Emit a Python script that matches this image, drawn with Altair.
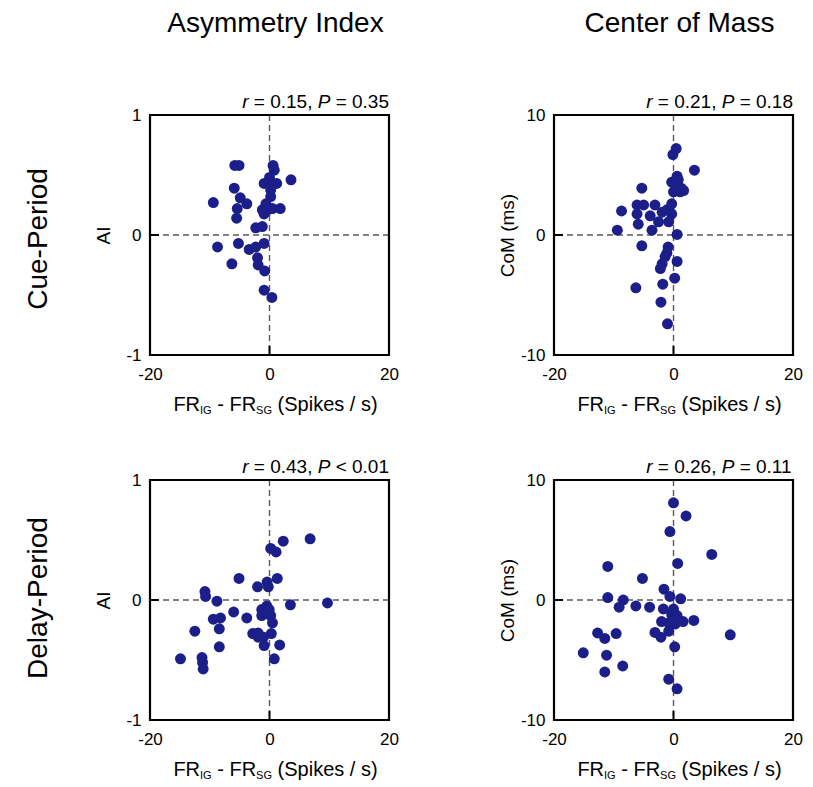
import altair as alt
import pandas as pd

FONT = "Liberation Sans"
NAVY = "#1c1f89"
PW, PH = 239, 240

# ---- data ----
cue_ai_x = [-5.8, -5.1, 0.6, 0.8, 0.0, 3.6, -0.9, 0.5, 1.2, -5.9, 0.2, -4.9, -3.8, -9.4, 0.2, -0.6,
            -5.4, -1.2, -0.3, 0.5, 1.8, -5.5, -0.9, -2.3, -1.2, -8.7, -5.2, -3.4, -2.3, -0.9, -6.3,
            -2.0, -1.9, -0.8, -0.9, 0.4]
cue_ai_y = [0.58, 0.58, 0.58, 0.54, 0.48, 0.46, 0.43, 0.43, 0.43, 0.39, 0.375, 0.31, 0.26, 0.27,
            0.32, 0.26, 0.22, 0.21, 0.21, 0.22, 0.22, 0.14, 0.175, 0.06, 0.07, -0.10, -0.07, -0.12,
            -0.10, -0.07, -0.24, -0.19, -0.25, -0.30, -0.46, -0.52]

cue_com_x = [0.45, -0.1, 3.5, 0.6, 0.8, -0.3, -5.3, 1.3, 1.7, 0.8, 0.0, 1.1, -6.1, -5.0, -3.1, -0.3,
             -8.7, -1.1, -1.9, -6.1, -3.9, -0.3, -2.5, -0.8, -5.9, -9.4, -3.6, 0.6, -5.3, -0.9,
             -1.1, -1.4, 0.6, -1.9, -2.2, 0.2, -6.3, -1.8, -2.1, -1.0]
cue_com_y = [7.2, 6.7, 5.4, 4.9, 4.6, 4.4, 3.9, 3.9, 3.7, 3.8, 3.6, 3.6, 2.5, 2.5, 2.5, 2.6, 2.0,
             2.1, 1.9, 1.75, 1.6, 1.75, 1.1, 1.1, 0.9, 0.4, 0.4, 0.05, -0.9, -1.0, -1.5, -1.8,
             -2.2, -2.4, -2.8, -3.6, -4.4, -4.1, -5.6, -7.4]

delay_ai_x = [6.8, 2.3, 0.2, 1.1, -5.1, 1.3, -0.4, -2.0, -0.2, -10.8, -10.7, -8.8, 3.5, 9.7, -0.45,
              -1.3, -0.05, -6.0, -1.3, 0.2, -3.8, -8.2, -9.4, 0.5, -8.4, -12.5, -2.8, -1.9, 0.3,
              -1.9, -1.0, -0.9, 1.7, -8.4, -14.9, -11.3, -11.2, -11.1, 0.8]
delay_ai_y = [0.51, 0.49, 0.43, 0.40, 0.18, 0.18, 0.15, 0.11, 0.11, 0.07, 0.03, -0.01, -0.04,
              -0.025, -0.05, -0.08, -0.08, -0.10, -0.13, -0.13, -0.15, -0.15, -0.16, -0.19, -0.24,
              -0.26, -0.28, -0.275, -0.28, -0.31, -0.31, -0.38, -0.375, -0.39, -0.49, -0.48,
              -0.52, -0.575, -0.49]

delay_com_x = [0.0, 2.1, -0.6, 6.4, 0.7, -11.0, -5.2, -1.6, -0.6, 1.2, -11.0, -8.4, -9.1, -6.3,
               -4.0, -1.7, 0.0, -0.3, 0.6, 1.6, 3.4, -2.0, -0.8, 0.3, -3.1, -2.1, -0.8, -12.7,
               -11.5, -9.6, 9.5, 0.2, -15.1, -11.2, -8.5, -11.5, -0.8, 0.6]
delay_com_y = [8.1, 7.0, 5.7, 3.8, 3.05, 2.8, 1.8, 0.9, 0.3, 0.1, 0.2, 0.0, -0.6, -0.5, -0.6,
               -0.75, -0.75, -1.2, -1.3, -1.8, -1.7, -1.8, -1.9, -2.0, -2.7, -3.1, -2.6, -2.75,
               -3.2, -2.8, -2.9, -3.9, -4.4, -4.6, -5.5, -6.0, -6.6, -7.4]

x_ticks = [-20, 0, 20]
ai_ticks = [-1, 0, 1]
com_ticks = [-10, 0, 10]
col_titles = ["Asymmetry Index", "Center of Mass"]
row_titles = ["Cue-Period", "Delay-Period"]
stats = [
    [("r", True), (" = 0.15, ", False), ("P", True), (" = 0.35", False)],
    [("r", True), (" = 0.21, ", False), ("P", True), (" = 0.18", False)],
    [("r", True), (" = 0.43, ", False), ("P", True), (" < 0.01", False)],
    [("r", True), (" = 0.26, ", False), ("P", True), (" = 0.11", False)],
]

# Arial / Liberation Sans advance widths (per 1000 em)
WID = {' ': 278, '=': 584, '<': 584, '.': 278, ',': 278, 'r': 333, 'P': 667, '-': 333,
       '(': 333, ')': 333, '/': 278, 'F': 611, 'R': 722, 'I': 278, 'G': 778, 'S': 667,
       'p': 556, 'i': 222, 'k': 500, 'e': 556, 's': 500}


def tw(s, size):
    return sum(WID.get(c, 556) for c in s) * size / 1000.0


ONE = pd.DataFrame({"a": [0]})


def txt(s, x, y, size, italic=False, align="left", baseline="alphabetic", angle=0):
    kw = dict(align=align, baseline=baseline, fontSize=size, font=FONT, color="black")
    if italic:
        kw["fontStyle"] = "italic"
    if angle:
        kw["angle"] = angle
    return alt.Chart(ONE).mark_text(**kw).encode(
        x=alt.value(x), y=alt.value(y), text=alt.value(s))


def segments(segs, x_start, y, size):
    layers = []
    x = x_start
    for s, it, sz, dy in segs:
        st = s.strip()
        lead = len(s) - len(s.lstrip())
        xx = x + tw(s[:lead], sz)
        if st:
            layers.append(txt(st, xx, y + dy, sz, italic=it))
        x += tw(s, sz)
    return layers


def panel(xs, ys, ydom, yvals, ytitle, stat, col_title=None, row_title=None, row_dy=0):
    df = pd.DataFrame({"x": xs, "y": ys})
    pts = alt.Chart(df).mark_circle(size=120, color=NAVY, opacity=1).encode(
        x=alt.X("x:Q", scale=alt.Scale(domain=[-20, 20], nice=False, zero=False),
                axis=alt.Axis(values=x_ticks, title=None, domain=False, ticks=False, grid=False,
                              labelPadding=11, labelFontSize=17, labelExpr="'' + datum.value",
                              labelFlush=False)),
        y=alt.Y("y:Q", scale=alt.Scale(domain=ydom, nice=False, zero=False),
                axis=alt.Axis(values=yvals, title=ytitle, domain=False, ticks=False, grid=False,
                              labelPadding=9, labelFontSize=17, labelExpr="'' + datum.value",
                              labelFlush=False, titleFontSize=19, titleFontWeight="normal",
                              titleX=-47, titleY=PH / 2, titleAngle=270, titleAlign="center",
                              titleBaseline="middle")),
    )
    zero = pd.DataFrame({"v": [0]})
    vline = alt.Chart(zero).mark_rule(color="#5a5a5a", strokeDash=[6, 4], strokeWidth=1.4).encode(x="v:Q")
    hline = alt.Chart(zero).mark_rule(color="#5a5a5a", strokeDash=[6, 4], strokeWidth=1.4).encode(y="v:Q")
    tick_x = alt.Chart(zero).mark_rule(color="black", strokeWidth=2).encode(
        x="v:Q", y=alt.value(PH), y2=alt.value(PH - 9))
    tick_y = alt.Chart(zero).mark_rule(color="black", strokeWidth=2).encode(
        y="v:Q", x=alt.value(0), x2=alt.value(9))
    frame = alt.Chart(ONE).mark_rect(fillOpacity=0, stroke="black", strokeWidth=2.2).encode(
        x=alt.value(0), x2=alt.value(PW), y=alt.value(0), y2=alt.value(PH))

    layers = [hline, vline, tick_x, tick_y, pts, frame]

    # r / P annotation, right aligned at the plot's right edge
    ssz = 19
    segs = [(s, it, ssz, 0) for s, it in stat]
    total = sum(tw(s, ssz) for s, _ in stat)
    layers += segments(segs, PW - total, -7, ssz)

    # x-axis title with subscripts
    msz, ssub = 20, 11
    xsegs = [("FR", False, msz, 0), ("IG", False, ssub, 3), (" - FR", False, msz, 0),
             ("SG", False, ssub, 3), (" (Spikes / s)", False, msz, 0)]
    xtot = sum(tw(s, sz) for s, _, sz, _ in xsegs)
    layers += segments(xsegs, PW / 2 + 6 - xtot / 2, PH + 56, msz)

    if col_title:
        layers.append(txt(col_title, PW / 2 + 6, -83, 28, align="center"))
    if row_title:
        layers.append(txt(row_title, -111, PH / 2 + row_dy, 28, align="center",
                          baseline="middle", angle=270))

    return alt.layer(*layers).properties(width=PW, height=PH)


pA = panel(cue_ai_x, cue_ai_y, [-1, 1], ai_ticks, "AI", stats[0], col_titles[0], row_titles[0], 4)
pB = panel(cue_com_x, cue_com_y, [-10, 10], com_ticks, "CoM (ms)", stats[1], col_titles[1])
pC = panel(delay_ai_x, delay_ai_y, [-1, 1], ai_ticks, "AI", stats[2], None, row_titles[1], -2)
pD = panel(delay_com_x, delay_com_y, [-10, 10], com_ticks, "CoM (ms)", stats[3])

chart = alt.concat(pA, pB, pC, pD, columns=2, spacing={"row": 125, "column": 165},
                   bounds="flush").properties(
    padding={"left": 16, "top": 1, "right": 0, "bottom": 0}
).configure_view(strokeWidth=0).configure_axis(
    labelFont=FONT, titleFont=FONT, labelColor="black", titleColor="black"
).configure(background="white")

chart.save("out.html", embed_options={"renderer": "svg", "actions": False})
